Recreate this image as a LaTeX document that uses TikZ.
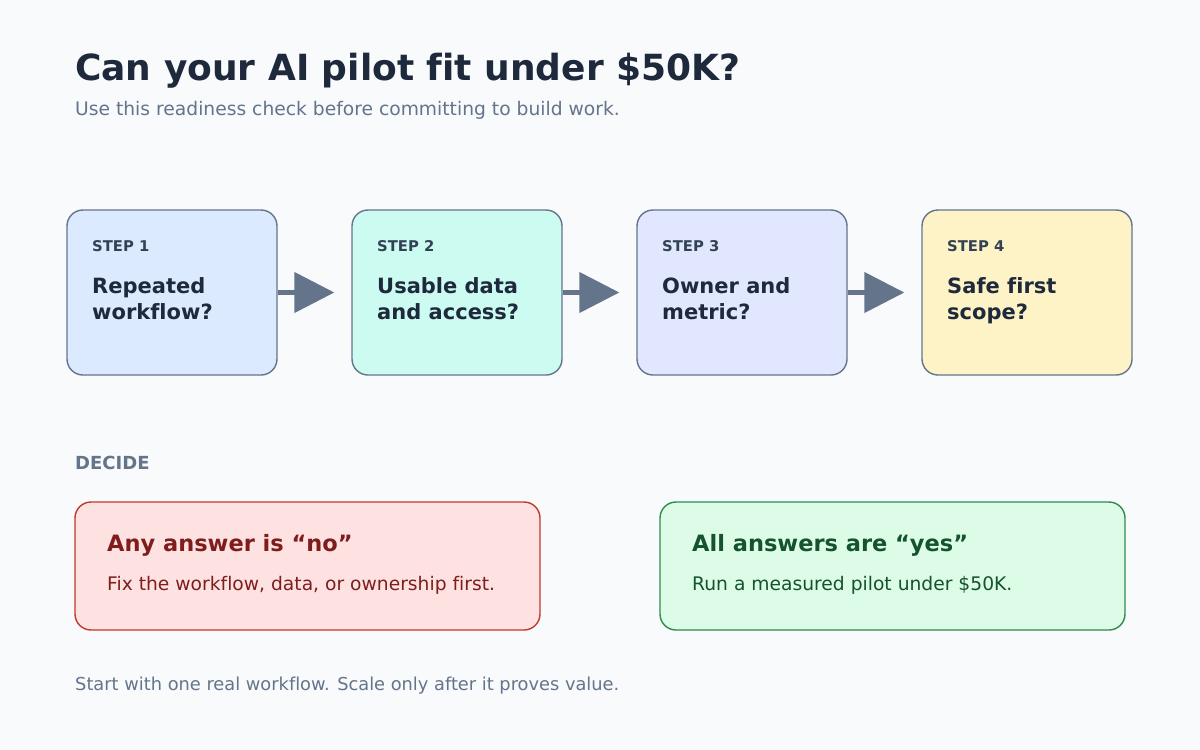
\documentclass[tikz,border=0pt]{standalone}
\usepackage{fontspec}
\setmainfont{DejaVu Sans}[Ligatures={TeX,NoCommon}]
\usetikzlibrary{arrows.meta,calc,positioning}
\definecolor{page}{HTML}{F8FAFC}
\definecolor{ink}{HTML}{1E293B}
\definecolor{muted}{HTML}{64748B}
\definecolor{tagink}{HTML}{334155}
\definecolor{edge}{HTML}{64748B}
\definecolor{stepA}{HTML}{DBEAFE}
\definecolor{stepB}{HTML}{CCFBF1}
\definecolor{stepC}{HTML}{E0E7FF}
\definecolor{stepD}{HTML}{FEF3C7}
\definecolor{noline}{HTML}{C0392B}
\definecolor{nofill}{HTML}{FEE2E2}
\definecolor{noink}{HTML}{7F1D1D}
\definecolor{yesline}{HTML}{2F8A4C}
\definecolor{yesfill}{HTML}{DCFCE7}
\definecolor{yesink}{HTML}{14532D}
\tikzset{
  step box/.style={draw=edge,line width=1.4pt,rounded corners=16pt,
    minimum width=210pt,minimum height=165pt,inner sep=0pt},
  step tag/.style={anchor=base west,inner sep=0pt,
    font=\bfseries\fontsize{14.8}{17}\selectfont,text=tagink},
  step question/.style={anchor=base west,inner sep=0pt,align=left,
    font=\bfseries\fontsize{21}{26}\selectfont,text=ink},
  flow arrow/.style={draw=edge,line width=4.5pt,
    -{Triangle[length=40pt,width=40pt]},shorten >=17pt},
  decide box/.style={line width=1.4pt,rounded corners=16pt,
    minimum width=465pt,minimum height=128pt,inner sep=0pt},
  decide title/.style={anchor=base west,inner sep=0pt,
    font=\bfseries\fontsize{22.5}{26}\selectfont},
  decide text/.style={anchor=base west,inner sep=0pt,
    font=\fontsize{18.7}{22}\selectfont}
}
\begin{document}
\begin{tikzpicture}[x=1pt,y=-1pt]
  \path[use as bounding box] (0,0) rectangle (1200,750);
  \fill[page] (0,0) rectangle (1200,750);

  \node[anchor=base west,inner sep=0pt,font=\bfseries\fontsize{36}{42}\selectfont,text=ink]
    (title) at (75,80) {Can your AI pilot fit under \$50K?};
  \node[anchor=base west,inner sep=0pt,font=\fontsize{18.7}{22}\selectfont,text=muted]
    (subtitle) at (75,115) {Use this readiness check before committing to build work.};

  % The four checks.
  \node[step box,fill=stepA] (step1) at (172,292.5) {};
  \node[step box,fill=stepB] (step2) at (457,292.5) {};
  \node[step box,fill=stepC] (step3) at (742,292.5) {};
  \node[step box,fill=stepD] (step4) at (1027,292.5) {};

  % base of a two-line node is its last line
  \node[step tag] (tag1) at (92,251.5) {STEP 1};
  \node[step question] (ask1) at (92,319) {Repeated\\workflow?};
  \node[step tag] (tag2) at (377,251.5) {STEP 2};
  \node[step question] (ask2) at (377,319) {Usable data\\and access?};
  \node[step tag] (tag3) at (662,251.5) {STEP 3};
  \node[step question] (ask3) at (662,319) {Owner and\\metric?};
  \node[step tag] (tag4) at (947,251.5) {STEP 4};
  \node[step question] (ask4) at (947,319) {Safe first\\scope?};

  \draw[flow arrow] (step1.east) -- (step2.west);
  \draw[flow arrow] (step2.east) -- (step3.west);
  \draw[flow arrow] (step3.east) -- (step4.west);

  % Decision.
  \node[anchor=base west,inner sep=0pt,font=\bfseries\fontsize{18}{21}\selectfont,text=muted]
    (decide) at (75,469) {DECIDE};

  \node[decide box,draw=noline,fill=nofill] (nobox) at (307.5,566) {};
  \node[decide title,text=noink] (notitle) at (107,551) {Any answer is “no”};
  \node[decide text,text=noink] (notext) at (107,590) {Fix the workflow, data, or ownership first.};

  \node[decide box,draw=yesline,fill=yesfill] (yesbox) at (892.5,566) {};
  \node[decide title,text=yesink] (yestitle) at (692,551) {All answers are “yes”};
  \node[decide text,text=yesink] (yestext) at (692,590) {Run a measured pilot under \$50K.};

  \node[anchor=base west,inner sep=0pt,font=\fontsize{17.8}{21}\selectfont,text=muted]
    (footer) at (75,690) {Start with one real workflow. Scale only after it proves value.};
\end{tikzpicture}
\end{document}
